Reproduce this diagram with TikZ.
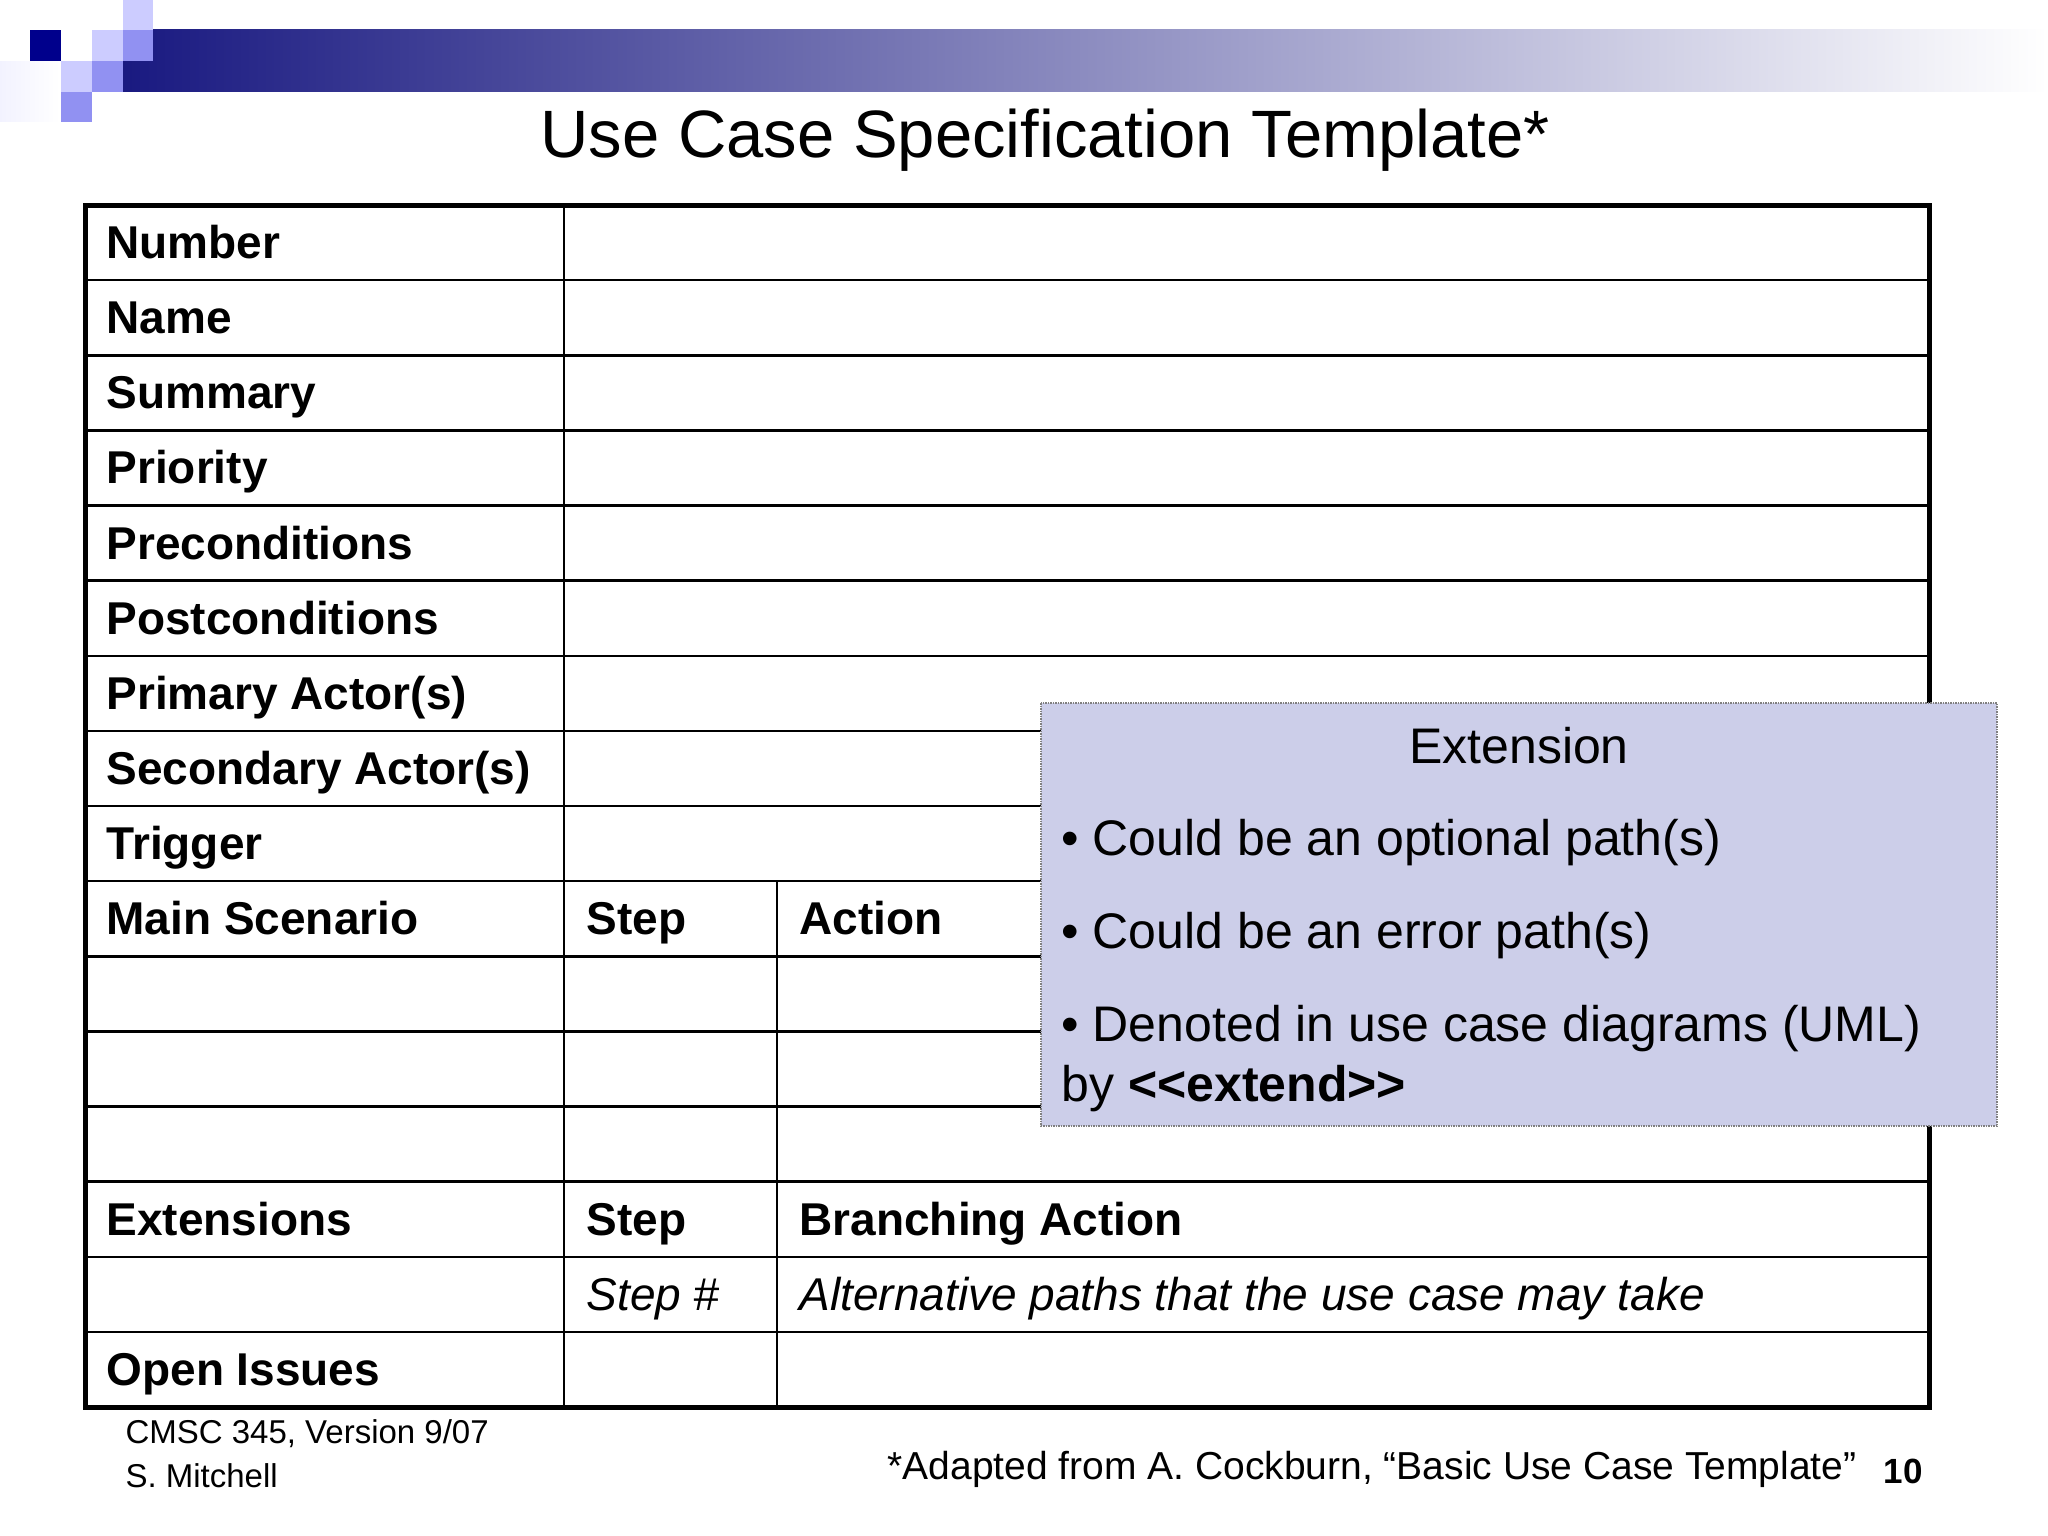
\documentclass[tikz,border=0pt]{standalone}
\usepackage{fontspec}
\setmainfont{Liberation Sans}
\begin{document}
\begin{tikzpicture}[x=1pt,y=-1pt,
  cell/.style={anchor=base west,font=\fontsize{46}{52}\selectfont\bfseries},
  icell/.style={anchor=base west,font=\fontsize{46}{52}\selectfont\itshape},
  bul/.style={anchor=base west,font=\fontsize{50}{56}\selectfont}]
\useasboundingbox (0,0) rectangle (2048,1536);
% logo
\shade[left color=white!80!blue!25, right color=white] (0,0) rectangle (60,122);
\shade[left color=blue!45!black!90, middle color=blue!45!black!50, right color=white] (123,30) rectangle (2048,92);
\fill[white] (123,61) rectangle (0,0);
\fill[blue!55!black] (30,30) rectangle (61,61);
\fill[blue!20!white] (123,0) rectangle (153,30);
\fill[blue!20!white] (92,30) rectangle (123,61);
\fill[blue!20!white] (61,61) rectangle (92,92);
\fill[blue!40!white!95!black] (123,30) rectangle (153,61);
\fill[blue!40!white!95!black] (92,61) rectangle (123,92);
\fill[blue!40!white!95!black] (61,92) rectangle (92,122);
% title
\node[font=\fontsize{67}{72}\selectfont] (title) at (1045,140) {Use Case Specification Template*};
% table
\def\rh{75.125}
\foreach \i in {1,...,15}{\draw[line width=2.5] (85,205+\i*\rh) -- (1929,205+\i*\rh);}
\draw[line width=2.5] (564,205) -- (564,1407);
\draw[line width=2.5] (777,205+9*\rh) -- (777,1407);
\draw[line width=5] (85,205) rectangle (1929,1407);
\foreach \t [count=\i from 0] in {Number,Name,Summary,Priority,Preconditions,Postconditions,Primary Actor(s),Secondary Actor(s),Trigger,Main Scenario}{
  \node[cell] (r\i) at (103,205+\i*\rh+0.5*\rh+16) {\t};}
\node[cell] (st1) at (583,205+9.5*\rh+16) {Step};
\node[cell] (ac1) at (796,205+9.5*\rh+16) {Action};
\node[cell] (ex) at (103,205+13.5*\rh+16) {Extensions};
\node[cell] (st2) at (583,205+13.5*\rh+16) {Step};
\node[cell] (ba) at (796,205+13.5*\rh+16) {Branching Action};
\node[icell] (sn) at (583,205+14.5*\rh+16) {Step \#};
\node[icell] (alt) at (796,205+14.5*\rh+16) {Alternative paths that the use case may take};
\node[cell] (oi) at (103,205+15.5*\rh+16) {Open Issues};
% extension box
\draw[densely dotted, gray, line width=1.5, fill={rgb,255:red,204;green,206;blue,233}] (1041,703) rectangle (1997,1126);
\node[anchor=base,font=\fontsize{50}{56}\selectfont] (ext) at (1519,763) {Extension};
\node[bul] (b1) at (1058,855) {• Could be an optional path(s)};
\node[bul] (b2) at (1058,948) {• Could be an error path(s)};
\node[bul] (b3) at (1058,1041) {• Denoted in use case diagrams (UML)};
\node[bul] (b4) at (1058,1101) {by \textbf{<{}<extend>{}>}};
% footer
\node[anchor=west,font=\fontsize{33}{36}\selectfont] (f1) at (122,1434) {CMSC 345, Version 9/07};
\node[anchor=west,font=\fontsize{33}{36}\selectfont] (f2) at (122,1476) {S. Mitchell};
\node[anchor=east,font=\fontsize{39}{42}\selectfont] (f3) at (1860,1469) {*Adapted from A. Cockburn, “Basic Use Case Template”};
\node[anchor=east,font=\fontsize{35}{38}\selectfont\bfseries] (pg) at (1926,1471) {10};
\end{tikzpicture}
\end{document}
